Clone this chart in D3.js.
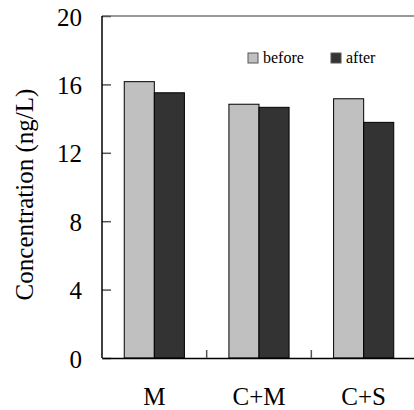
<!DOCTYPE html>
<html>
<head>
<meta charset="utf-8">
<script src="https://cdn.jsdelivr.net/npm/d3@7"></script>
<style>
  html, body { margin: 0; padding: 0; background: #fff; }
  svg { display: block; }
  svg text { font-family: "Times New Roman", "Liberation Serif", "DejaVu Serif", serif; }
</style>
</head>
<body>
<div id="chart"></div>
<script>
// chart data
const categories = ['M', 'C+M', 'C+S'];
const seriesNames = ['before', 'after'];
const before = [16.16, 14.84, 15.16];
const after = [15.51, 14.66, 13.78];
const yTicks = [0, 4, 8, 12, 16, 20];
const yLabel = 'Concentration (ng/L)';

const width = 414;
const height = 410;
const margin = { top: 16, right: -2, bottom: 52, left: 102 };
const colors = { before: '#c0c0c0', after: '#333333' };
const serif = '"Times New Roman", "Liberation Serif", "DejaVu Serif", serif';

const svg = d3.select('#chart').append('svg')
  .attr('width', width)
  .attr('height', height)
  .attr('font-family', serif);

const x = d3.scaleBand()
  .domain(categories)
  .range([margin.left, width - margin.right]);

const xSub = d3.scaleBand()
  .domain(seriesNames)
  .range([0, x.bandwidth()])
  .paddingOuter(0.74);

const y = d3.scaleLinear()
  .domain([0, 20])
  .range([height - margin.bottom, margin.top]);

const rows = categories.map((c, i) => ({ cat: c, before: before[i], after: after[i] }));

// frame on top
svg.append('line')
  .attr('x1', margin.left).attr('x2', width - margin.right)
  .attr('y1', y(20)).attr('y2', y(20))
  .attr('stroke', '#777').attr('stroke-width', 1.5);

// bars
const groups = svg.append('g').selectAll('g')
  .data(rows)
  .join('g')
  .attr('transform', d => 'translate(' + x(d.cat) + ',0)');

groups.selectAll('rect')
  .data(d => seriesNames.map(s => ({ key: s, value: d[s] })))
  .join('rect')
  .attr('x', d => xSub(d.key))
  .attr('y', d => y(d.value))
  .attr('width', xSub.bandwidth())
  .attr('height', d => y(0) - y(d.value))
  .attr('fill', d => colors[d.key])
  .attr('stroke', '#000')
  .attr('stroke-width', 1);

// y axis, ticks inside
const yAxis = svg.append('g')
  .attr('transform', 'translate(' + margin.left + ',0)')
  .call(d3.axisRight(y).tickValues(yTicks).tickSize(9).tickFormat(''));
yAxis.select('.domain').remove();
yAxis.selectAll('line').attr('stroke', '#555').attr('stroke-width', 1.5);

svg.append('g')
  .selectAll('text')
  .data(yTicks)
  .join('text')
  .attr('x', margin.left - 20)
  .attr('y', d => y(d) + 9.5)
  .attr('text-anchor', 'end')
  .attr('font-family', serif)
  .attr('font-size', 25)
  .text(d => d);

svg.append('line')
  .attr('x1', margin.left).attr('x2', margin.left)
  .attr('y1', y(20)).attr('y2', y(0))
  .attr('stroke', '#000').attr('stroke-width', 1.5);

// x axis, separator ticks between groups
const xAxis = svg.append('g')
  .attr('transform', 'translate(0,' + y(0) + ')')
  .call(d3.axisBottom(x).tickSize(0).tickFormat(''));
xAxis.select('.domain').attr('stroke', '#000').attr('stroke-width', 1.5);
xAxis.selectAll('.tick').remove();

svg.append('g')
  .selectAll('line')
  .data(categories.slice(1))
  .join('line')
  .attr('x1', d => x(d)).attr('x2', d => x(d))
  .attr('y1', y(0)).attr('y2', y(0) - 8)
  .attr('stroke', '#555').attr('stroke-width', 1.5);

svg.append('g')
  .selectAll('text')
  .data(categories)
  .join('text')
  .attr('x', d => x(d) + x.bandwidth() / 2)
  .attr('y', 404.5)
  .attr('text-anchor', 'middle')
  .attr('font-family', serif)
  .attr('font-size', 25)
  .text(d => d);

// axis title
svg.append('text')
  .attr('transform', 'translate(33,194.5) rotate(-90)')
  .attr('text-anchor', 'middle')
  .attr('font-family', serif)
  .attr('font-size', 25)
  .text(yLabel);

// legend
const legendX = [248, 331];
const legend = svg.append('g').selectAll('g')
  .data(seriesNames)
  .join('g')
  .attr('transform', (d, i) => 'translate(' + legendX[i] + ',53)');
legend.append('rect')
  .attr('width', 10).attr('height', 10)
  .attr('fill', d => colors[d])
  .attr('stroke', '#555').attr('stroke-width', 1);
legend.append('text')
  .attr('x', 15).attr('y', 10)
  .attr('font-family', serif)
  .attr('font-size', 16)
  .text(d => d);
</script>
</body>
</html>
